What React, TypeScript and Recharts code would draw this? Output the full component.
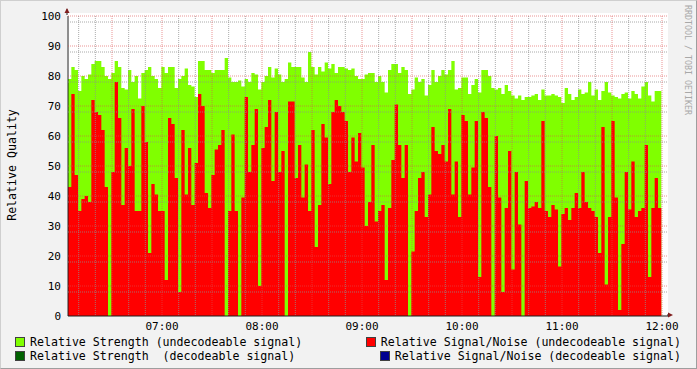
import { Area, CartesianGrid, ComposedChart, XAxis, YAxis } from "recharts";

// Samples are 2 minutes apart, first one at 06:03:36
const START_MINUTE = 3.6;
const STEP_MINUTES = 2;

const STRENGTH_UNDECODEABLE = [
	79, 83, 82, 75, 80, 79, 80.5, 84, 85, 85, 83, 80, 79, 81, 85, 83, 76, 75.5, 82, 78, 80, 72.5, 81, 82, 83, 80, 79, 76, 83, 81,
	83, 83, 76, 79, 80, 82.5, 77, 76.5, 73, 85, 85, 82, 82, 81, 82, 82, 82, 86, 79.5, 78, 78, 78.5, 76.5, 79, 78, 81, 80.5, 75.5, 78, 80,
	83, 79.5, 82.5, 80.5, 78, 79, 84.5, 83, 83, 83, 79.5, 78, 88, 83, 80.5, 83, 81.5, 84.5, 82.5, 84, 81, 83, 83, 82.5, 82, 82.5, 80, 79, 79, 80.5,
	81, 81, 78, 80, 78, 74.5, 82, 84, 84, 81, 83, 82, 74, 75.5, 79.5, 78, 79, 73.5, 77, 82, 78, 80, 82, 80.5, 82, 85, 75.5, 76, 79.5, 79.5,
	74, 77, 79, 74.5, 82, 82, 80, 76, 75.5, 76, 74, 77, 75, 73.5, 72.5, 73.5, 72, 73, 73, 73.5, 74, 72, 75.5, 73.5, 73.5, 74, 73.5, 73, 71, 76,
	74, 72, 73, 75.5, 74, 74.5, 78, 73.5, 75.5, 72, 75, 78, 74.5, 73.5, 73, 72.5, 74, 74.5, 72.5, 75, 74, 72.5, 76.5, 78, 73.5, 71.5, 75, 75,
];

const SIGNAL_NOISE_UNDECODEABLE = [
	43, 74, 47, 35, 39, 40, 38, 72, 68, 67, 62, 43, 0, 48, 78, 66, 37, 56, 50, 69, 35, 35, 70, 58, 21, 44, 40.5, 35, 35, 12,
	66, 64, 46, 8, 62, 40.5, 56, 37, 51, 74, 70, 41, 36, 47, 55.5, 57, 62, 0, 35, 60.5, 35, 0, 39.5, 73, 48, 57, 69, 10, 56, 63,
	72, 45, 68, 48, 55, 0, 71.5, 71.5, 46, 57, 39.5, 50.5, 35, 62, 23, 37, 64, 59.5, 44, 68, 72, 70, 68, 65, 48, 59.5, 51.5, 61, 49.5, 30,
	38, 57, 31.5, 35, 37, 12, 36, 52, 70.5, 57, 46, 57, 0, 21.5, 35, 46, 48, 33, 40.5, 63, 55, 54, 57, 51.5, 69, 40.5, 51.5, 33, 67, 65,
	40.5, 49.5, 65, 13, 68, 66, 43, 0, 60, 39.5, 8, 36, 55, 15.5, 48, 30.5, 0, 45, 36, 36.5, 38, 36, 65, 35, 33, 37, 35.5, 16.5, 34, 36,
	32, 36, 41, 36, 48, 38, 36, 35, 33, 21, 63, 10.5, 33, 65, 39.5, 2, 24, 48, 35.5, 51.5, 33, 35, 36, 57, 13, 36, 46, 36,
];

const HOUR_TICKS = [60, 120, 180, 240, 300, 360];
const HOUR_LABELS = ["07:00", "08:00", "09:00", "10:00", "11:00", "12:00"];
const Y_TICKS = [0, 10, 20, 30, 40, 50, 60, 70, 80, 90, 100];

const LEGEND_ITEMS = [
	{ label: "Relative Strength (undecodeable signal)", color: "#80ff00" },
	{ label: "Relative Signal/Noise (undecodeable signal)", color: "#ff0000" },
	{ label: "Relative Strength  (decodeable signal)", color: "#006000" },
	{ label: "Relative Signal/Noise (decodeable signal)", color: "#000090" },
];

const chartData = STRENGTH_UNDECODEABLE.map((strength, i) => ({
	t: START_MINUTE + STEP_MINUTES * i,
	strength,
	sn: SIGNAL_NOISE_UNDECODEABLE[i],
}));
// closing point so the last step has a width
chartData.push({
	t: START_MINUTE + STEP_MINUTES * STRENGTH_UNDECODEABLE.length,
	strength: STRENGTH_UNDECODEABLE[STRENGTH_UNDECODEABLE.length - 1],
	sn: SIGNAL_NOISE_UNDECODEABLE[SIGNAL_NOISE_UNDECODEABLE.length - 1],
});

const minorY: number[] = [];
const majorY: number[] = [];
for (let v = 2; v <= 100; v += 2) (v % 10 === 0 ? majorY : minorY).push(v);
const minorX: number[] = [];
const majorX: number[] = [];
for (let m = 10; m <= 360; m += 10) (m % 30 === 0 ? majorX : minorX).push(m);

const MONO = "'DejaVu Sans Mono', monospace";

export default function App() {
	const hourLabel = (v: number) => HOUR_LABELS[HOUR_TICKS.indexOf(v)] ?? "";

	return (
		<div style={styles.frame}>
			<div style={styles.canvas} />
			<div style={{ position: "absolute", left: 0, top: 0 }}>
				<ComposedChart width={697} height={369} data={chartData} margin={{ top: 15, right: 30, left: 7, bottom: 34 }}>
					<XAxis
						type="number"
						dataKey="t"
						domain={[START_MINUTE, START_MINUTE + 360]}
						allowDataOverflow
						ticks={HOUR_TICKS}
						tickFormatter={hourLabel}
						tickLine={false}
						tickSize={0}
						tickMargin={6}
						height={20}
						axisLine={{ stroke: "#1f1f1f" }}
						tick={{ fontFamily: MONO, fontSize: 11, fill: "#000" }}
					/>
					<YAxis
						type="number"
						domain={[0, 100]}
						ticks={Y_TICKS}
						allowDataOverflow
						tickLine={false}
						tickSize={0}
						tickMargin={7}
						width={60}
						axisLine={{ stroke: "#1f1f1f" }}
						tick={{ fontFamily: MONO, fontSize: 11, fill: "#000" }}
					/>
					<Area
						type="stepAfter"
						dataKey="strength"
						stroke="none"
						fill="#80ff00"
						fillOpacity={1}
						dot={false}
						activeDot={false}
						isAnimationActive={false}
					/>
					<Area
						type="stepAfter"
						dataKey="sn"
						stroke="none"
						fill="#ff0000"
						fillOpacity={1}
						dot={false}
						activeDot={false}
						isAnimationActive={false}
					/>
					<CartesianGrid
						horizontalValues={minorY}
						verticalValues={minorX}
						stroke="rgba(143,143,143,0.75)"
						strokeDasharray="1 1"
						zIndex={600}
					/>
					<CartesianGrid
						horizontalValues={majorY}
						verticalValues={majorX}
						stroke="rgba(222,79,79,0.6)"
						strokeDasharray="1 1"
						zIndex={600}
					/>
				</ComposedChart>
			</div>

			<svg width={697} height={369} style={styles.overlay}>
				<line x1={67} y1={9} x2={67} y2={15} stroke="#1f1f1f" />
				<polygon points="64.5,13 69.5,13 67,8" fill="#801f1f" />
				<line x1={667} y1={315} x2={669} y2={315} stroke="#1f1f1f" />
				<polygon points="668,312.5 668,317.5 673,315" fill="#801f1f" />
				<text
					transform="translate(16,165) rotate(-90)"
					textAnchor="middle"
					fontFamily={MONO}
					fontSize={11.6}
					fill="#000"
				>
					Relative Quality
				</text>
				<text
					transform="translate(685,5) rotate(90)"
					textAnchor="start"
					fontFamily={MONO}
					fontSize={8.3}
					fill="#a8a8a8"
				>
					RRDTOOL / TOBI OETIKER
				</text>
			</svg>

			<div style={{ ...styles.legendRow, top: 334 }}>
				<LegendItem {...LEGEND_ITEMS[0]} />
				<LegendItem {...LEGEND_ITEMS[1]} />
			</div>
			<div style={{ ...styles.legendRow, top: 348 }}>
				<LegendItem {...LEGEND_ITEMS[2]} />
				<LegendItem {...LEGEND_ITEMS[3]} />
			</div>
		</div>
	);
}

function LegendItem({ label, color }: { label: string; color: string }) {
	return (
		<span style={styles.legendItem}>
			<span style={{ ...styles.legendBox, backgroundColor: color }} />
			<span style={{ whiteSpace: "pre" }}>{label}</span>
		</span>
	);
}

const styles = {
	frame: {
		position: "fixed",
		left: 0,
		top: 0,
		width: 697,
		height: 369,
		boxSizing: "border-box",
		backgroundColor: "#f2f2f2",
		borderStyle: "solid",
		borderWidth: 1,
		borderColor: "#cfcfcf #9e9e9e #9e9e9e #cfcfcf",
		overflow: "hidden",
	},
	canvas: {
		position: "absolute",
		left: 66,
		top: 12,
		width: 601,
		height: 302,
		backgroundColor: "#fff",
	},
	overlay: {
		position: "absolute",
		left: -1,
		top: -1,
		pointerEvents: "none",
	},
	legendRow: {
		position: "absolute",
		left: 14,
		width: 666,
		height: 14,
		display: "flex",
		justifyContent: "space-between",
		alignItems: "center",
		fontFamily: MONO,
		fontSize: 11.6,
		color: "#000",
	},
	legendItem: {
		display: "flex",
		alignItems: "center",
	},
	legendBox: {
		display: "inline-block",
		width: 8,
		height: 8,
		border: "1px solid #404040",
		marginRight: 5,
	},
} satisfies Record<string, React.CSSProperties>;
